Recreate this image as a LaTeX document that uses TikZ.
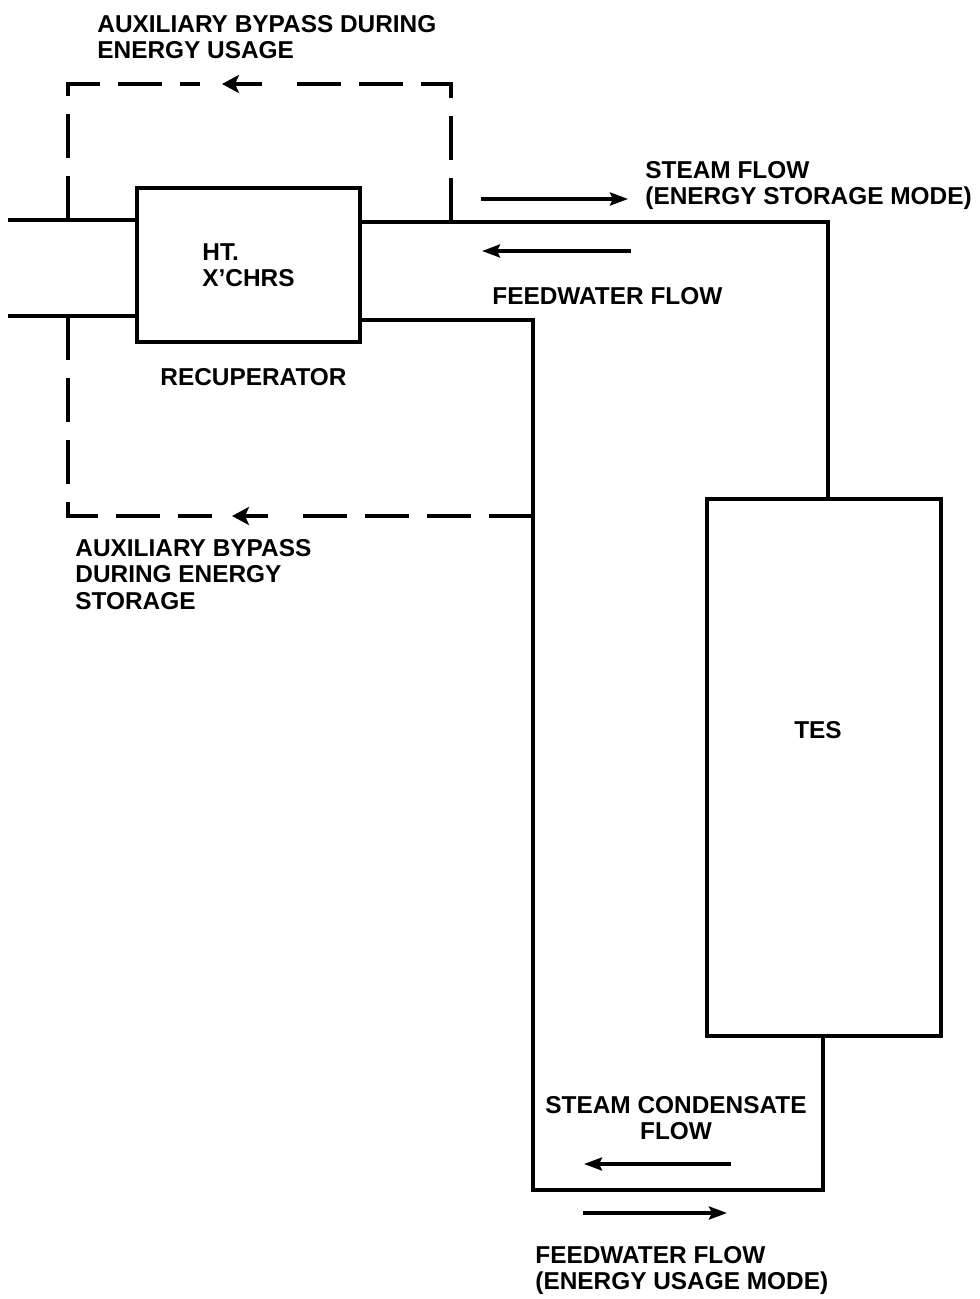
\documentclass[tikz,border=0pt]{standalone}
\usepackage{fontspec}
\setmainfont{Liberation Sans}
\usetikzlibrary{arrows.meta}
\tikzset{
  pipe/.style={line width=1.8pt, line cap=rect},
  bypass/.style={line width=2pt, dash pattern=on 22pt off 9pt},
  flowarrow/.style={line width=1.7pt, -{Stealth[length=9pt,width=6.5pt,inset=1.5pt]}},
  bypassarrow/.style={line width=2.2pt, -{Stealth[length=8.5pt,width=9pt,inset=2pt]}},
  unit/.style={draw, line width=1.8pt, inner sep=0pt},
  lbl/.style={font=\bfseries\fontsize{12.2}{13.2}\selectfont, inner sep=0pt}
}
\begin{document}
\begin{tikzpicture}[x=0.5pt,y=-0.5pt]
\useasboundingbox (0,0) rectangle (979,1299);
% units
\node[unit, lbl, minimum width=111.5pt, minimum height=77pt, align=left] (rec) at (248.5,265) {HT.\\X'CHRS};
\node[unit, minimum width=117pt, minimum height=268.5pt] (tes) at (824,767.5) {};
\node[lbl] (testxt) at (818,730) {TES};
% pipe coordinates
\coordinate (lt) at (10,220);
\coordinate (lb) at (10,316);
\coordinate (tr) at (828,222);
\coordinate (fc) at (533,320);
\coordinate (bl) at (533,1190);
\coordinate (br) at (823,1190);
% pipes
\draw[pipe] (lt) -- (lt -| rec.west);
\draw[pipe] (lb) -- (lb -| rec.west);
\draw[pipe] (rec.east |- tr) -- (tr) -- (tr |- tes.north);
\draw[pipe] (rec.east |- fc) -- (fc) -- (bl) -- (br) -- (br |- tes.south);
% top bypass
\coordinate (ta) at (68,84);
\coordinate (tb) at (451,84);
\coordinate (tg1) at (200,84);
\coordinate (tg2) at (290,84);
\coordinate (tah) at (262,84);
\coordinate (tat) at (222,84);
\draw[bypass] (ta |- lt) -- (ta) -- (tg1);
\draw[bypass] (tb |- tr) -- (tb) -- (tg2);
\draw[bypassarrow] (tah) -- (tat);
% bottom bypass
\coordinate (ba) at (68,516);
\coordinate (bg1) at (212,516);
\coordinate (bg2) at (295,516);
\coordinate (bah) at (268,516);
\coordinate (bat) at (232,516);
\draw[bypass] (ba |- lb) -- (ba) -- (bg1);
\draw[bypass] (ba -| fc) -- (bg2);
\draw[bypassarrow] (bah) -- (bat);
% flow arrows
\coordinate (s1) at (481,199);
\coordinate (s2) at (628,199);
\draw[flowarrow] (s1) -- (s2);
\coordinate (f1) at (631,251);
\coordinate (f2) at (482,251);
\draw[flowarrow] (f1) -- (f2);
\coordinate (c1) at (731,1164);
\coordinate (c2) at (584,1164);
\draw[flowarrow] (c1) -- (c2);
\coordinate (u1) at (583,1213);
\coordinate (u2) at (727,1213);
\draw[flowarrow] (u1) -- (u2);
% labels
\node[lbl, anchor=north west, align=left] (l1) at (97,15) {AUXILIARY BYPASS DURING\\ENERGY USAGE};
\node[lbl, anchor=north west] (l2) at (160,368) {RECUPERATOR};
\node[lbl, anchor=north west, align=left] (l3) at (645,161) {STEAM FLOW\\(ENERGY STORAGE MODE)};
\node[lbl, anchor=north west] (l4) at (492,287) {FEEDWATER FLOW};
\node[lbl, anchor=north west, align=left] (l5) at (75,539) {AUXILIARY BYPASS\\DURING ENERGY\\STORAGE};
\node[lbl, anchor=north, align=center] (l6) at (676,1096) {STEAM CONDENSATE\\FLOW};
\node[lbl, anchor=north west, align=left] (l7) at (535,1246) {FEEDWATER FLOW\\(ENERGY USAGE MODE)};
\end{tikzpicture}
\end{document}
